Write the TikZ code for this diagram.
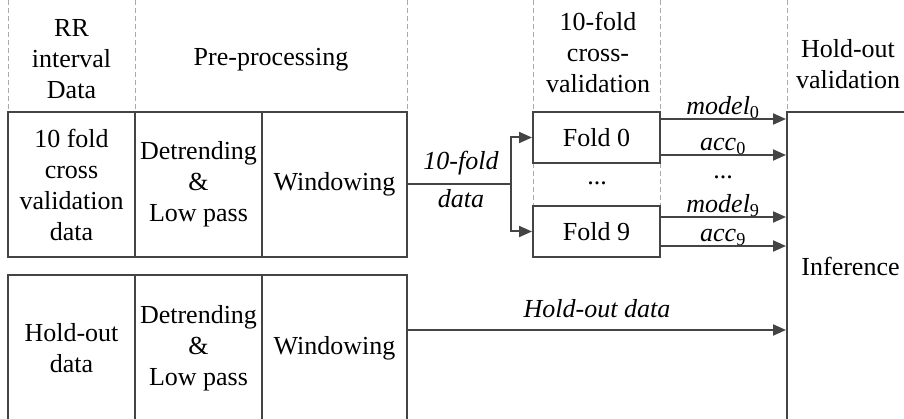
\documentclass[tikz,border=0pt]{standalone}
\usepackage{fontspec}
\setmainfont{Liberation Serif}
\usetikzlibrary{arrows.meta}
\definecolor{ink}{HTML}{444444}
\definecolor{guide}{HTML}{AAAAAA}
\tikzset{
  every node/.style={font=\fontsize{26}{31}\selectfont, text=black},
  cell/.style={draw=ink, line width=2pt, inner sep=0pt, align=center},
  guideline/.style={draw=guide, line width=0.9pt, dash pattern=on 5pt off 3pt},
  wire/.style={draw=ink, line width=2pt},
  arr/.style={wire, -{Triangle[length=13pt,width=11pt]}},
  hdr/.style={align=center, inner sep=0pt},
  dots/.style={anchor=base, inner sep=0pt},
  lbl/.style={anchor=base, inner sep=0pt, font=\fontsize{26}{31}\selectfont\itshape},
}
\newcommand{\sbs}[1]{\textsubscript{\upshape #1}}
\begin{document}
\begin{tikzpicture}[x=1pt, y=-1pt]
\useasboundingbox (0,0) rectangle (904,419);

% column guides
\foreach \gx in {8,135,407,533,660,787}
  \draw[guideline] (\gx,0) -- (\gx,112);
\foreach \gx in {533,660}
  \draw[guideline] (\gx,163) -- (\gx,206);

% column headings
\node[hdr] (hRR)  at (71.5,59) {RR\\interval\\Data};
\node[hdr] (hPre) at (271,60) {Pre-processing};
\node[hdr] (hCV)  at (598,52) {10-fold\\cross-\\validation};
\node[hdr] (hHO)  at (848,64) {Hold-out\\validation};

% cross-validation branch
\node[cell, minimum width=127pt, minimum height=145pt] (cvdata) at (71.5,184.5) {10 fold\\cross\\validation\\data};
\node[cell, minimum width=127pt, minimum height=145pt] (cvpre)  at (198.5,184.5) {Detrending\\\&\\Low pass};
\node[cell, minimum width=145pt, minimum height=145pt] (cvwin)  at (334.5,184.5) {Windowing};

% hold-out branch
\node[cell, minimum width=127pt, minimum height=146pt] (hodata) at (71.5,348) {Hold-out\\data};
\node[cell, minimum width=127pt, minimum height=146pt] (hopre)  at (198.5,348) {Detrending\\\&\\Low pass};
\node[cell, minimum width=145pt, minimum height=146pt] (howin)  at (334.5,348) {Windowing};

% folds
\node[cell, minimum width=127pt, minimum height=51pt] (fold0) at (596.5,137.5) {Fold 0};
\node[cell, minimum width=127pt, minimum height=51pt] (fold9) at (596.5,231.5) {Fold 9};
\node[dots] (fdots) at (597,185) {...};

% inference
\node[cell, minimum width=127pt, minimum height=309pt] (inf) at (850.5,266.5) {Inference};

% 10-fold data split
\coordinate (split) at (511,184.5);
\draw[wire] (cvwin.east) -- (split);
\draw[arr] (split) |- (fold0.west);
\draw[arr] (split) |- (fold9.west);
\node[lbl] (l10a) at (461,170) {10-fold};
\node[lbl] (l10b) at (461,208) {data};

% fold outputs
\draw[arr] (fold0.east |- 0,119) -- (inf.west |- 0,119);
\draw[arr] (fold0.east |- 0,155) -- (inf.west |- 0,155);
\draw[arr] (fold9.east |- 0,217) -- (inf.west |- 0,217);
\draw[arr] (fold9.east |- 0,246) -- (inf.west |- 0,246);
\node[lbl] (m0) at (723,115) {model\sbs{0}};
\node[lbl] (a0) at (723,151) {acc\sbs{0}};
\node[dots] (odots) at (723,179) {...};
\node[lbl] (m9) at (723,213) {model\sbs{9}};
\node[lbl] (a9) at (723,242) {acc\sbs{9}};

% hold-out data
\draw[arr] (howin.east |- 0,330) -- (inf.west |- 0,330);
\node[lbl] (lho) at (597,318) {Hold-out data};
\end{tikzpicture}
\end{document}
